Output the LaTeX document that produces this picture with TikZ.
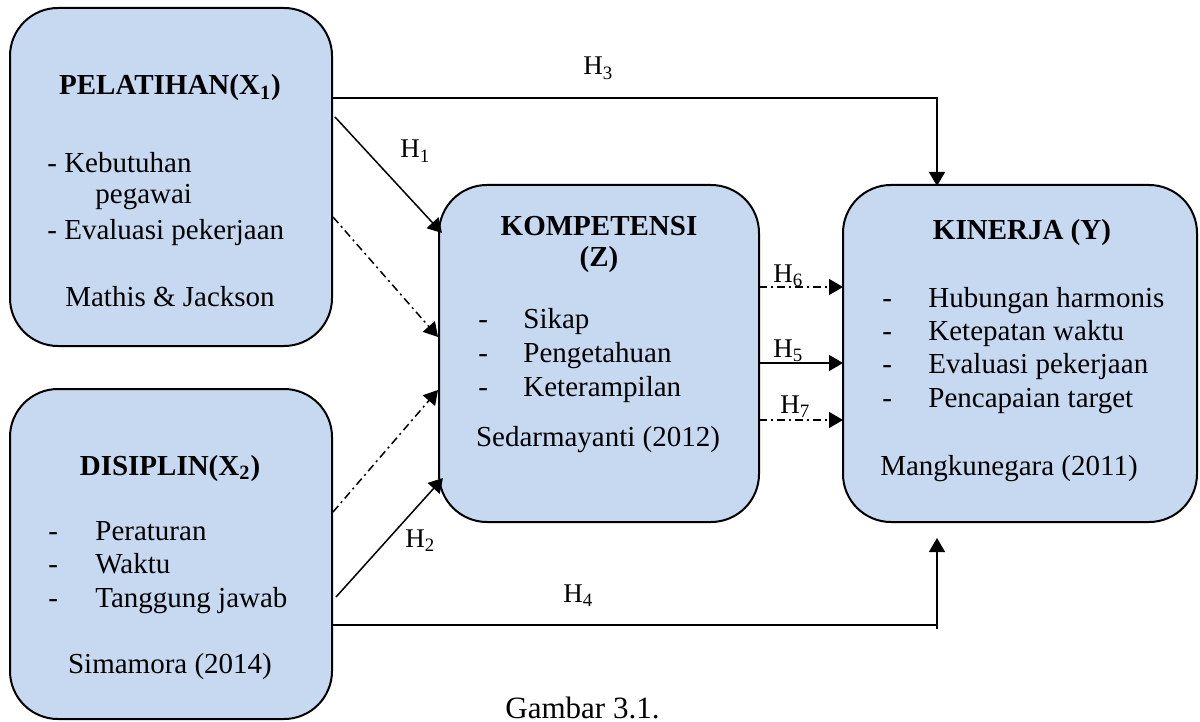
\documentclass[tikz,border=0pt]{standalone}
\usepackage{fontspec}
\setmainfont{Liberation Serif}
\usetikzlibrary{arrows.meta,calc}
\definecolor{boxblue}{HTML}{C6D9F1}
\newcommand{\ditem}[2]{\makebox[#1][l]{-}#2}
\begin{document}
\begin{tikzpicture}[x=0.5pt,y=-0.5pt,
  box/.style={draw=black, line width=1pt, fill=boxblue, rounded corners=24pt, inner sep=0pt},
  txt/.style={font=\fontsize{14.5}{17}\selectfont, inner sep=0pt},
  ttl/.style={font=\fontsize{14.5}{17}\selectfont\bfseries, inner sep=0pt, anchor=base},
  ctr/.style={txt, anchor=base},
  lft/.style={txt, anchor=base west},
  lbl/.style={font=\fontsize{13.5}{15}\selectfont, inner sep=0pt, anchor=base west},
  ln/.style={line width=0.75pt},
  arr/.style={line width=0.75pt, -{Triangle[length=7pt,width=8pt]}},
  dd/.style={arr, dash pattern=on 4pt off 2pt on 1pt off 2pt}]
\useasboundingbox (0,0) rectangle (1200,722);

% boxes
\node[box, minimum width=161pt, minimum height=169pt] (x1) at (171,177) {};
\node[box, minimum width=161pt, minimum height=165pt] (x2) at (171,554) {};
\node[box, minimum width=160pt, minimum height=168.5pt] (z) at (599,353.5) {};
\node[box, minimum width=177pt, minimum height=168.5pt] (y) at (1020,353.5) {};

% X1 text
\node[ttl] (x1t) at (170,95) {PELATIHAN(X\textsubscript{1})};
\node[lft] (x1a) at (47,172) {- Kebutuhan};
\node[lft] (x1b) at (95,204) {pegawai};
\node[lft] (x1c) at (47,239) {- Evaluasi pekerjaan};
\node[ctr] (x1s) at (170,306) {Mathis \& Jackson};

% X2 text
\node[ttl] (x2t) at (170,475) {DISIPLIN(X\textsubscript{2})};
\node[lft] (x2a) at (48,540) {\ditem{23.5pt}{Peraturan}};
\node[lft] (x2b) at (48,573) {\ditem{23.5pt}{Waktu}};
\node[lft] (x2c) at (48,607) {\ditem{23.5pt}{Tanggung jawab}};
\node[ctr] (x2s) at (170,673) {Simamora (2014)};

% Z text
\node[ttl] (zt) at (599,235) {KOMPETENSI};
\node[ttl] (zt2) at (599,266) {(Z)};
\node[lft] (za) at (478,328) {\ditem{22.5pt}{Sikap}};
\node[lft] (zb) at (478,362) {\ditem{22.5pt}{Pengetahuan}};
\node[lft] (zc) at (478,396) {\ditem{22.5pt}{Keterampilan}};
\node[ctr] (zs) at (598,446) {Sedarmayanti (2012)};

% Y text
\node[ttl] (yt) at (1022,240) {KINERJA (Y)};
\node[lft] (ya) at (882,307) {\ditem{23pt}{Hubungan harmonis}};
\node[lft] (yb) at (882,340) {\ditem{23pt}{Ketepatan waktu}};
\node[lft] (yc) at (882,373) {\ditem{23pt}{Evaluasi pekerjaan}};
\node[lft] (yd) at (882,407) {\ditem{23pt}{Pencapaian target}};
\node[ctr] (ys) at (1009,475) {Mangkunegara (2011)};

% connector end points
\coordinate (h3s) at (332,98);
\coordinate (h3e) at (937,186);
\coordinate (h1s) at (335,117);
\coordinate (h1e) at (442,233);
\coordinate (d1s) at (333,217);
\coordinate (d1e) at (438,337);
\coordinate (d2s) at (333,512);
\coordinate (d2e) at (438,390);
\coordinate (h2s) at (336,597);
\coordinate (h2e) at (443,478);
\coordinate (h4s) at (332,625);
\coordinate (h4c) at (937,625);
\coordinate (h4b) at (937,629);
\coordinate (h4e) at (937,538);
\coordinate (h6s) at (759,287);
\coordinate (h6e) at (843,287);
\coordinate (h5s) at (759,363);
\coordinate (h5e) at (843,363);
\coordinate (h7s) at (759,420);
\coordinate (h7e) at (843,420);

% connectors
\draw[arr] (h3s) -| (h3e);
\draw[arr] (h1s) -- (h1e);
\draw[dd] (d1s) -- (d1e);
\draw[dd] (d2s) -- (d2e);
\draw[arr] (h2s) -- (h2e);
\draw[ln] (h4s) -- (h4c);
\draw[arr] (h4b) -- (h4e);
\draw[dd] (h6s) -- (h6e);
\draw[arr] (h5s) -- (h5e);
\draw[dd] (h7s) -- (h7e);

% labels
\node[lbl] (l3) at (583,75) {H\textsubscript{3}};
\node[lbl] (l1) at (400,158) {H\textsubscript{1}};
\node[lbl] (l2) at (405,547) {H\textsubscript{2}};
\node[lbl] (l4) at (563,602) {H\textsubscript{4}};
\node[lbl] (l6) at (773,282) {H\textsubscript{6}};
\node[lbl] (l5) at (773,357) {H\textsubscript{5}};
\node[lbl] (l7) at (780,413) {H\textsubscript{7}};

% caption
\node[font=\fontsize{15.5}{18}\selectfont, inner sep=0pt, anchor=base west] (cap) at (505,718) {Gambar 3.1.};
\end{tikzpicture}
\end{document}
